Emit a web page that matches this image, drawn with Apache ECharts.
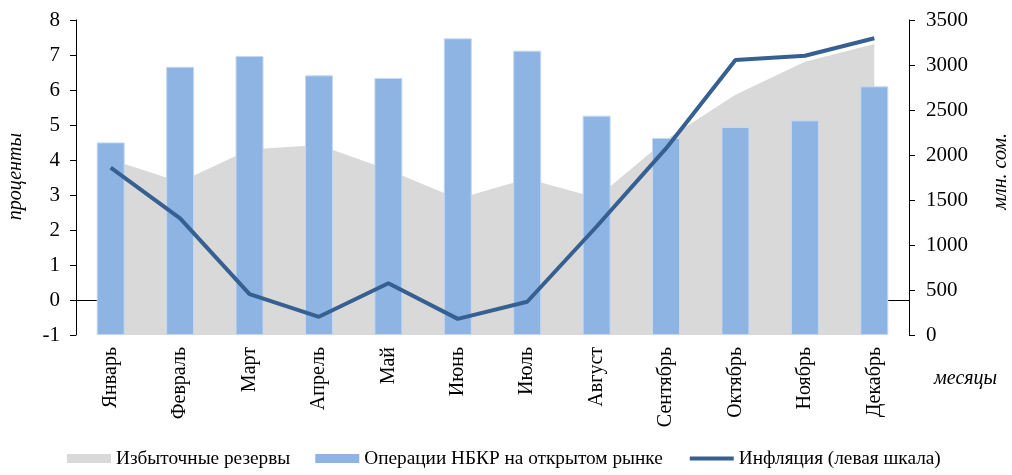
<!DOCTYPE html>
<html>
<head>
<meta charset="utf-8">
<script src="https://cdn.jsdelivr.net/npm/echarts@6/dist/echarts.min.js"></script>
<style>
html,body{margin:0;padding:0;background:#fff;}
#chart{width:1012px;height:475px;}
</style>
</head>
<body>
<div id="chart"></div>
<script>
var categories = ['Январь','Февраль','Март','Апрель','Май','Июнь','Июль','Август','Сентябрь','Октябрь','Ноябрь','Декабрь'];
var excessReserves = [1950, 1700, 2060, 2110, 1835, 1515, 1737, 1525, 2170, 2670, 3035, 3233];
var nbkrOperations = [2140, 2980, 3100, 2885, 2856, 3296, 3159, 2437, 2189, 2311, 2385, 2763];
var inflation = [3.78, 2.33, 0.17, -0.48, 0.48, -0.54, -0.05, 2.1, 4.33, 6.86, 6.98, 7.48];
var leftTicks = {min: -1, max: 8, interval: 1};
var rightTicks = {min: 0, max: 3500, interval: 500};
var names = ['Избыточные резервы', 'Операции НБКР на открытом рынке', 'Инфляция (левая шкала)'];

var FONT = '"Liberation Serif","Times New Roman",serif';
var chart = echarts.init(document.getElementById('chart'), null, {renderer: 'canvas'});
chart.setOption({
  animation: false,
  backgroundColor: '#fff',
  textStyle: {fontFamily: FONT, color: '#000'},
  grid: {left: 76, right: 103, top: 20, bottom: 140},
  legend: {
    left: 62, bottom: 2,
    itemWidth: 44, itemHeight: 9, itemGap: 25,
    textStyle: {fontFamily: FONT, fontSize: 19.3, color: '#000', padding: [0,0,0,0]},
    data: [
      {name: names[0], icon: 'rect', itemStyle: {color: '#D9D9D9'}},
      {name: names[1], icon: 'rect', itemStyle: {color: '#8EB4E3', borderWidth: 0}},
      {name: names[2], itemStyle: {opacity: 0}, lineStyle: {width: 4, color: '#376092'}}
    ]
  },
  xAxis: [
    {
      type: 'category', data: categories, position: 'bottom',
      axisLine: {show: false}, axisTick: {show: false},
      axisLabel: {rotate: 90, fontFamily: FONT, fontSize: 20, color: '#000', margin: 12}
    },
    {
      type: 'category', data: categories, position: 'bottom',
      axisLine: {show: true, onZero: true, onZeroAxisIndex: 0, lineStyle: {color: '#000', width: 1}},
      axisTick: {show: true, length: 4, lineStyle: {color: '#000'}},
      axisLabel: {show: false}
    }
  ],
  yAxis: [
    {
      type: 'value', min: leftTicks.min, max: leftTicks.max, interval: leftTicks.interval,
      axisLine: {show: true, lineStyle: {color: '#000'}},
      axisTick: {show: true, length: 6, lineStyle: {color: '#000'}},
      splitLine: {show: false},
      axisLabel: {fontFamily: FONT, fontSize: 21, color: '#000', margin: 16}
    },
    {
      type: 'value', min: rightTicks.min, max: rightTicks.max, interval: rightTicks.interval,
      position: 'right',
      axisLine: {show: true, lineStyle: {color: '#000'}},
      axisTick: {show: true, length: 6, lineStyle: {color: '#000'}},
      splitLine: {show: false},
      axisLabel: {fontFamily: FONT, fontSize: 21, color: '#000', margin: 17,
        formatter: function (v) { return String(v); }}
    }
  ],
  series: [
    {
      name: names[0], type: 'line', yAxisIndex: 1, xAxisIndex: 0,
      data: excessReserves, symbol: 'none', z: 1,
      lineStyle: {width: 0, color: '#D9D9D9'},
      itemStyle: {color: '#D9D9D9'},
      areaStyle: {color: '#D9D9D9', opacity: 1}
    },
    {
      name: names[1], type: 'bar', yAxisIndex: 1, xAxisIndex: 0,
      data: nbkrOperations, barWidth: 28, z: 2,
      itemStyle: {color: '#8EB4E3', borderColor: '#C6D9F1', borderWidth: 1}
    },
    {
      name: names[2], type: 'line', yAxisIndex: 0, xAxisIndex: 0,
      data: inflation, symbol: 'none', z: 5,
      lineStyle: {width: 4, color: '#376092'},
      itemStyle: {color: '#376092'}
    }
  ],
  graphic: [
    {type: 'text', left: 6, top: 133, rotation: Math.PI/2,
     style: {text: 'проценты', font: 'italic 20px ' + FONT, fill: '#000'}},
    {type: 'text', left: 991, top: 133, rotation: Math.PI/2,
     style: {text: 'млн. сом.', font: 'italic 20px ' + FONT, fill: '#000'}},
    {type: 'text', left: 934, top: 369,
     style: {text: 'месяцы', font: 'italic 20px ' + FONT, fill: '#000'}}
  ]
});
</script>
</body>
</html>
